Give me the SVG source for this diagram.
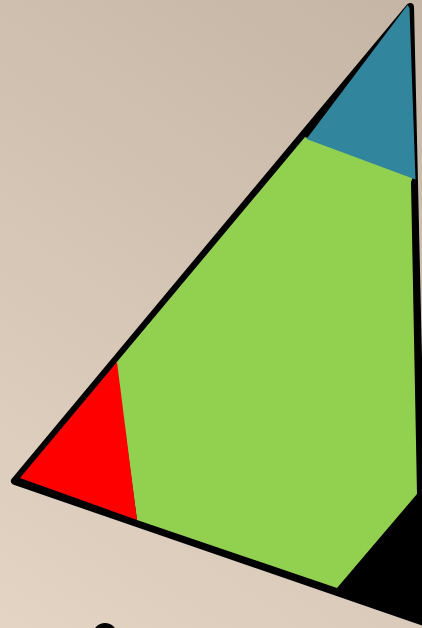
<svg xmlns="http://www.w3.org/2000/svg" width="422" height="628" viewBox="0 0 422 628">
  <defs>
    <linearGradient id="bg" gradientUnits="userSpaceOnUse" x1="0" y1="628" x2="422" y2="0">
      <stop offset="0" stop-color="#e4d4c4"/>
      <stop offset="1" stop-color="#c4b5a5"/>
    </linearGradient>
  </defs>
  <style>
    .outline { fill: #000000; stroke: #000000; stroke-width: 8; stroke-linejoin: round; }
    .green { fill: #92d050; }
    .red { fill: #ff0000; }
    .teal { fill: #31859c; }
    .dot { fill: #000000; }
  </style>
  <rect width="422" height="628" fill="url(#bg)"/>
  <g id="triangle">
    <polygon class="outline" points="410,7 15,481 424,622"/>
  </g>
  <g id="green-region">
    <polygon class="green" points="116,363 305,137 413,177 411,182 417,494 337,588 137,520"/>
  </g>
  <g id="red-region">
    <polygon class="red" points="117,362 20,478 137,520"/>
  </g>
  <g id="teal-region">
    <polygon class="teal" points="306.5,139 407.5,5 409.5,8 415.5,179.5"/>
  </g>
  <g id="dot">
    <circle class="dot" cx="105" cy="635.5" r="12.5"/>
  </g>
</svg>
